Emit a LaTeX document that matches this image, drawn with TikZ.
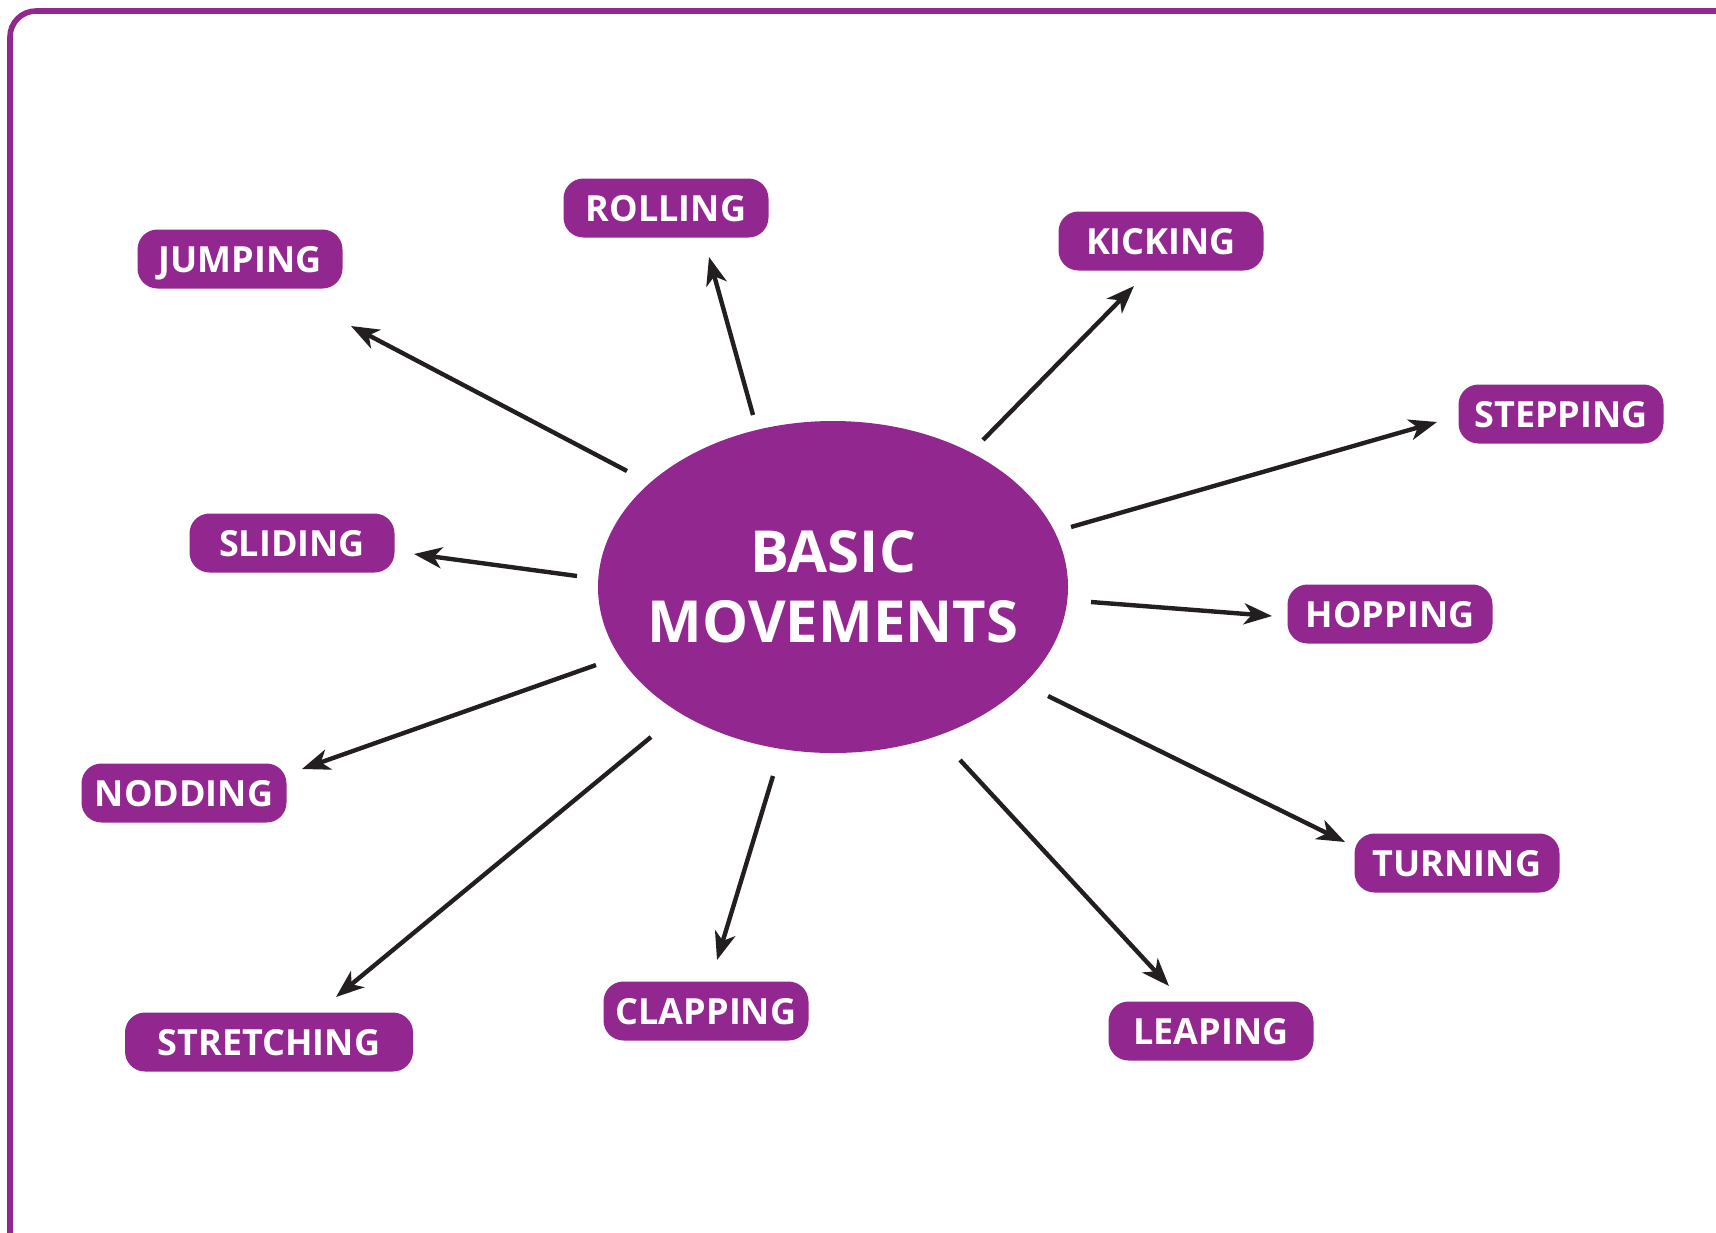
\documentclass[tikz,border=0pt]{standalone}
\usepackage{fontspec}
\setmainfont{Open Sans}
\usetikzlibrary{arrows.meta,shapes.geometric}
\definecolor{movepurple}{HTML}{92278F}
\definecolor{arrowblack}{HTML}{231F20}

\begin{document}
\begin{tikzpicture}[x=0.5pt, y=-0.5pt,
    movebox/.style={fill=movepurple, rounded corners=10pt, minimum width=102.5pt, minimum height=29.5pt,
        inner sep=0pt, text=white, text height=13pt, text depth=0pt, font=\bfseries\fontsize{18}{20}\selectfont},
    arr/.style={draw=arrowblack, line width=2.2pt, -{Stealth[length=14pt, width=10.5pt, inset=4pt]}}]
            \useasboundingbox (0,0) rectangle (1716,1232);
            \clip (0,0) rectangle (1716,1232);
            \draw[movepurple, line width=2.8pt, rounded corners=13pt] (10,11) rectangle (1760,1262);

            \node[ellipse, fill=movepurple, minimum width=235pt, minimum height=166pt, inner sep=0pt] (basic) at (833,587) {};
            \node[text=white, align=center, font=\bfseries\fontsize{29}{35}\selectfont] (basic-text) at (basic) {BASIC\\MOVEMENTS};

            \node[movebox] (jumping) at (240,259) {JUMPING};
            \node[movebox] (rolling) at (666,208) {ROLLING};
            \node[movebox] (kicking) at (1161,241) {KICKING};
            \node[movebox] (stepping) at (1561,414) {STEPPING};
            \node[movebox] (sliding) at (292,543) {SLIDING};
            \node[movebox] (hopping) at (1390,614) {HOPPING};
            \node[movebox] (nodding) at (184,793) {NODDING};
            \node[movebox] (turning) at (1457,863) {TURNING};
            \node[movebox, minimum width=144pt] (stretching) at (269,1042) {STRETCHING};
            \node[movebox] (clapping) at (706,1011) {CLAPPING};
            \node[movebox] (leaping) at (1211,1031) {LEAPING};

            \coordinate (jumping-s) at (627,471);    \coordinate (jumping-e) at (351,326);
            \coordinate (rolling-s) at (753,415);    \coordinate (rolling-e) at (709,257);
            \coordinate (kicking-s) at (983,440);    \coordinate (kicking-e) at (1134,286);
            \coordinate (stepping-s) at (1071,527);  \coordinate (stepping-e) at (1437,422);
            \coordinate (sliding-s) at (577,576);    \coordinate (sliding-e) at (414,554);
            \coordinate (hopping-s) at (1091,602);   \coordinate (hopping-e) at (1272,616);
            \coordinate (nodding-s) at (596,665);    \coordinate (nodding-e) at (302,769);
            \coordinate (turning-s) at (1048,696);   \coordinate (turning-e) at (1345,842);
            \coordinate (stretching-s) at (651,737); \coordinate (stretching-e) at (336,997);
            \coordinate (clapping-s) at (773,776);   \coordinate (clapping-e) at (717,960);
            \coordinate (leaping-s) at (960,760);    \coordinate (leaping-e) at (1169,986);

            \draw[arr] (jumping-s) -- (jumping-e);
            \draw[arr] (rolling-s) -- (rolling-e);
            \draw[arr] (kicking-s) -- (kicking-e);
            \draw[arr] (stepping-s) -- (stepping-e);
            \draw[arr] (sliding-s) -- (sliding-e);
            \draw[arr] (hopping-s) -- (hopping-e);
            \draw[arr] (nodding-s) -- (nodding-e);
            \draw[arr] (turning-s) -- (turning-e);
            \draw[arr] (stretching-s) -- (stretching-e);
            \draw[arr] (clapping-s) -- (clapping-e);
            \draw[arr] (leaping-s) -- (leaping-e);

\end{tikzpicture}
\end{document}
